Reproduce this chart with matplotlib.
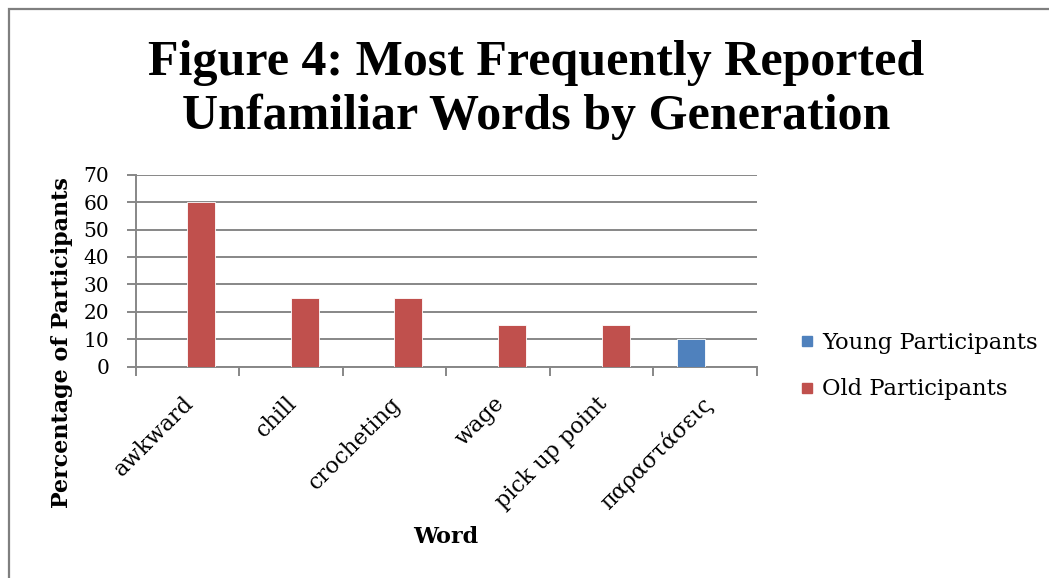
import matplotlib
matplotlib.use('Agg')
import matplotlib.pyplot as plt
from matplotlib.patches import Rectangle
from matplotlib.lines import Line2D
import numpy as np

words = ['awkward', 'chill', 'crocheting', 'wage', 'pick up point', 'παραστάσεις']
young = [0, 0, 0, 0, 0, 10]
old = [60, 25, 25, 15, 15, 0]
series_names = ['Young Participants', 'Old Participants']
y_ticks = [0, 10, 20, 30, 40, 50, 60, 70]
title = 'Figure 4: Most Frequently Reported\nUnfamiliar Words by Generation'

BLUE = '#4F81BD'
RED = '#C0504D'
GRID = '#878787'

plt.rcParams['font.family'] = ['DejaVu Serif', 'Liberation Serif']

W, H = 1049, 578
fig = plt.figure(figsize=(W / 100, H / 100), dpi=100)

# outer chart border (only left and top visible)
fig.patches.append(Rectangle((8.5 / W, -0.5), 2.0, 1.5 - 8.5 / H,
                             transform=fig.transFigure, fill=False,
                             edgecolor='#7F7F7F', linewidth=1.6))

ax = fig.add_axes([135.5 / W, 1 - 366.5 / H, (757 - 135.5) / W, (366.5 - 174.7) / H])
x = np.arange(len(words)) + 0.5
w = 0.27
ax.bar(x - w / 2, young, w, color=BLUE, edgecolor='white', linewidth=0.6, zorder=3)
ax.bar(x + w / 2, old, w, color=RED, edgecolor='white', linewidth=0.6, zorder=3)

ax.set_xlim(0, len(words))
ax.set_ylim(0, 70)
ax.set_yticks(y_ticks)
ax.set_yticklabels([str(t) for t in y_ticks], fontsize=14.5)
ax.yaxis.grid(True, color=GRID, linewidth=1.4, zorder=0)
ax.set_axisbelow(True)
for s in ['top', 'right']:
    ax.spines[s].set_visible(False)
for s in ['left', 'bottom']:
    ax.spines[s].set_color(GRID)
    ax.spines[s].set_linewidth(1.4)
ax.tick_params(axis='y', length=6.5, width=1.4, color=GRID, pad=12.5)

ax.set_xticks(np.arange(len(words) + 1), minor=True)
ax.set_xticks(x)
ax.set_xticklabels([])
ax.tick_params(axis='x', which='major', length=0)
ax.tick_params(axis='x', which='minor', length=6.5, width=1.4, color=GRID)

for xi, lab in zip(x, words):
    ax.annotate(lab, xy=(xi, 0), xycoords=('data', 'axes fraction'),
                xytext=(-5, -26), textcoords='offset pixels',
                rotation=45, ha='right', va='top', rotation_mode='anchor',
                fontsize=16)

fig.text(62 / W, 1 - 343 / H, 'Percentage of Participants', rotation=90,
         ha='center', va='center', fontsize=16, fontweight='bold')
fig.text(446 / W, 1 - 537 / H, 'Word', ha='center', va='center',
         fontsize=16, fontweight='bold')

fig.text(536 / W, 1 - 90 / H, title, ha='center', va='center',
         fontsize=36, fontweight='bold', family='Liberation Serif',
         linespacing=1.22)

handles = [Line2D([], [], marker='s', linestyle='none', markersize=7,
                  markerfacecolor=c, markeredgecolor=c) for c in (BLUE, RED)]
fig.legend(handles, series_names, loc='center left',
           bbox_to_anchor=(789 / W, 1 - 366 / H), frameon=False,
           fontsize=16.3, handletextpad=0.25, labelspacing=1.1, handlelength=0.8,
           borderaxespad=0)

fig.savefig('out.png', dpi=100)
